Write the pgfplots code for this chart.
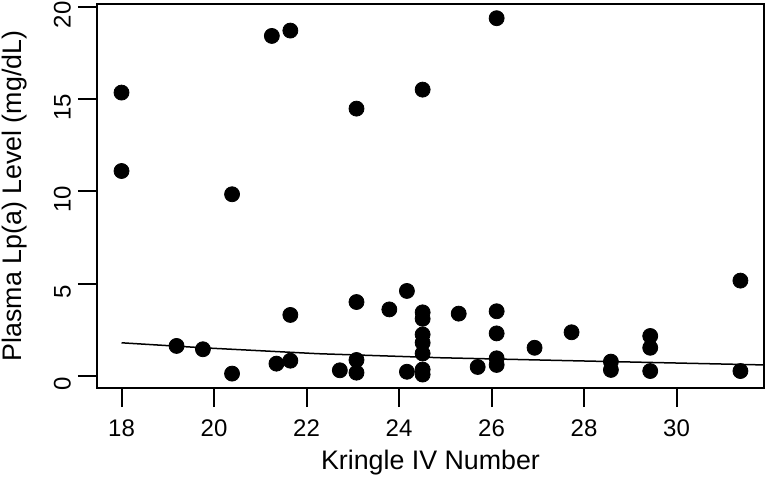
\documentclass[border=0pt]{standalone}
\usepackage{pgfplots}
\pgfplotsset{compat=1.18}
\usepackage{fontspec}
\setmainfont{Liberation Sans}
\begin{document}
\begin{tikzpicture}
\begin{axis}[
  at={(48.5pt,45pt)}, anchor=south west,
  width=333.5pt, height=192pt, scale only axis,
  xmin=17.47, xmax=31.89, ymin=-0.65, ymax=20.16,
  xtick={18,20,22,24,26,28,30}, ytick={0,5,10,15,20},
  xtick pos=bottom, ytick pos=left,
  tick align=outside, major tick length=9.5pt,
  every tick/.style={black, line width=1pt},
  axis line style={line width=1pt},
  minor tick num=0,
  tick label style={font=\fontsize{12}{14}\selectfont},
  /pgf/number format/assume math mode=true,
  xticklabel style={anchor=north, yshift=-3pt},
  yticklabel style={rotate=90, anchor=south, xshift=-4pt},
  xlabel={Kringle IV Number},
  ylabel={Plasma Lp(a) Level (mg/dL)},
  label style={font=\fontsize{13.4}{16}\selectfont},
  xlabel style={at={(axis description cs:0.5,-0.195)}, anchor=center},
  ylabel style={at={(axis description cs:-0.1235,0.5)}, anchor=center, rotate=0},
  clip=true,
]
\addplot[only marks, mark=*, mark size=3.75pt, draw=black, fill=black] coordinates {
(18.0,15.36) (18.0,11.11) (20.39,9.85) (21.25,18.43) (21.65,18.72)
(23.08,14.49) (24.51,15.52) (26.11,19.39)
(19.19,1.63) (19.76,1.45) (20.39,0.13) (21.35,0.67) (21.65,0.83) (21.65,3.31)
(22.72,0.31) (23.08,4.01) (23.08,0.87) (23.08,0.18)
(23.79,3.61) (24.17,4.61) (24.17,0.23)
(24.51,3.45) (24.51,3.10) (24.51,2.25) (24.51,1.80) (24.51,1.22) (24.51,0.35) (24.51,0.08)
(25.29,3.38) (25.70,0.49)
(26.11,3.51) (26.11,2.31) (26.11,0.96) (26.11,0.60)
(26.93,1.53) (27.73,2.37)
(28.58,0.78) (28.58,0.33)
(29.43,2.17) (29.43,1.53) (29.43,0.27)
(31.38,5.17) (31.38,0.27)
};
\addplot[black, line width=0.75pt] coordinates {
(18.0,1.80) (19.76,1.53) (22.24,1.21) (24.89,0.99) (27.71,0.83) (31.89,0.60)
};
\end{axis}
\pgfresetboundingbox
\path (0,0) rectangle (383pt,239pt);
\end{tikzpicture}
\end{document}
